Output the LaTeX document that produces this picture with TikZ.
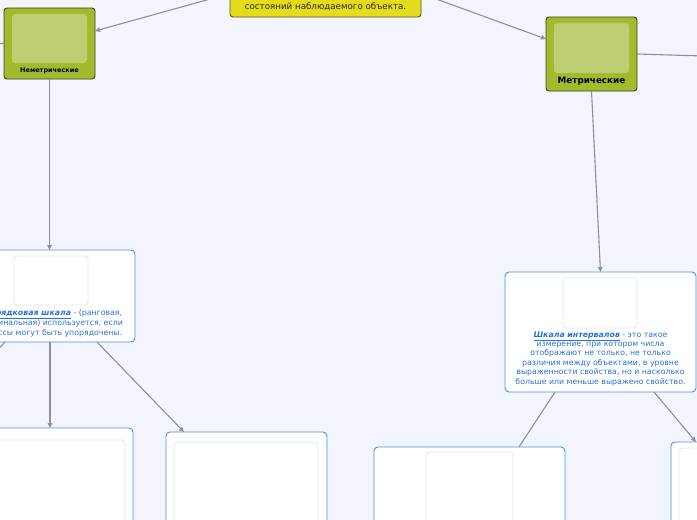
\documentclass[tikz,border=0pt]{standalone}
\usepackage{fontspec}
\setmainfont{DejaVu Sans}
\usetikzlibrary{arrows.meta,calc}
\definecolor{bg}{HTML}{F2F5FE}
\definecolor{gfill}{HTML}{A2BB2D}
\definecolor{ginner}{HTML}{BDCF72}
\definecolor{gdraw}{HTML}{3D4214}
\definecolor{yfill}{HTML}{E5DC1C}
\definecolor{ydraw}{HTML}{55522A}
\definecolor{ytext}{HTML}{2A2A1A}
\definecolor{bdraw}{HTML}{4A92E6}
\definecolor{btext}{HTML}{2B72CF}
\definecolor{conncol}{HTML}{8E8F98}
\definecolor{phdraw}{HTML}{E6E6E8}
\newcommand\mylink[1]{\underline{\textbf{\textit{#1}}}}
\begin{document}
\begin{tikzpicture}[x=1pt,y=-1pt,
 box/.style={rectangle, inner sep=0pt, outer sep=0pt},
 greenbox/.style={box, draw=gdraw, fill=gfill, rounded corners=3pt, line width=0.9pt},
 greeninner/.style={box, fill=ginner, rounded corners=3pt},
 yellowbox/.style={box, draw=ydraw, fill=yfill, rounded corners=3pt, line width=0.9pt},
 bluebox/.style={box, draw=bdraw, fill=white, rounded corners=4pt, line width=0.9pt},
 phbox/.style={box, draw=phdraw, fill=white, rounded corners=3pt, line width=0.8pt},
 bluetext/.style={text=btext, font=\fontsize{7.8}{9.4}\selectfont, align=center, inner sep=0pt},
 conn/.style={draw=conncol, line width=1.1pt},
 arr/.style={conn, -{Triangle[length=5pt,width=4.5pt]}},
]
\useasboundingbox (0,0) rectangle (697,520);
\clip (0,0) rectangle (697,520);
\fill[bg] (0,0) rectangle (697,520);

% boxes
\node[yellowbox, minimum width=191pt, minimum height=47pt] (yb) at (325.5,-6.5) {};
\node[font=\fontsize{8.7}{10}\selectfont, text=ytext, inner sep=0pt] (ytx) at (325.5,7) {состояний наблюдаемого объекта.};

\node[greenbox, minimum width=91pt, minimum height=71pt] (nm) at (49.5,43.5) {};
\node[greeninner, minimum width=75pt, minimum height=49pt] (nmi) at (49.5,38.5) {};
\node[font=\bfseries\fontsize{6.5}{7}\selectfont, inner sep=0pt] (nml) at (49.5,70.5) {Неметрические};

\node[greenbox, minimum width=91pt, minimum height=74pt] (mt) at (591.5,54) {};
\node[greeninner, minimum width=75pt, minimum height=50pt] (mti) at (591.5,48) {};
\node[font=\bfseries\fontsize{8.8}{9}\selectfont, inner sep=0pt] (mtl) at (591.5,81) {Метрические};

\node[bluebox, minimum width=168pt, minimum height=92pt] (pb) at (51,296) {};
\node[phbox, minimum width=74pt, minimum height=49pt] (pbi) at (51,280.5) {};
\node[bluetext] (pbt) at (53,323) {\mylink{Порядковая шкала} - (ранговая,\\ординальная) используется, если\\классы могут быть упорядочены.};

\node[bluebox, minimum width=191pt, minimum height=120pt] (ib) at (600.5,332) {};
\node[phbox, minimum width=74pt, minimum height=50pt] (ibi) at (600,303) {};
\node[bluetext] (ibt) at (600.5,358.5) {\mylink{Шкала интервалов} - это такое\\измерение, при котором числа\\отображают не только, не только\\различия между объектами, в уровне\\выраженности свойства, но и насколько\\больше или меньше выражено свойство.};

\node[bluebox, minimum width=166pt, minimum height=132pt] (lb) at (50,494) {};
\node[phbox, minimum width=150pt, minimum height=120pt] (lbi) at (50,500) {};

\node[bluebox, minimum width=161pt, minimum height=148pt] (mb) at (246.5,506) {};
\node[phbox, minimum width=144pt, minimum height=140pt] (mbi) at (246,512) {};

\node[bluebox, minimum width=191pt, minimum height=153pt] (bb) at (469.5,523.5) {};
\node[phbox, minimum width=87pt, minimum height=88pt] (bbi) at (469.5,496) {};

\node[bluebox, minimum width=189pt, minimum height=158pt] (rb) at (765.5,521) {};
\node[phbox, minimum width=173pt, minimum height=140pt] (rbi) at (765.5,518) {};

% free ends
\coordinate (mtr) at (720,56.5);
\coordinate (nml2) at (-30,44);
\coordinate (pbl) at (-40,390);

% connectors
\draw[arr] (yb.west) -- ([yshift=12.5pt]nm.east);
\draw[arr] (yb.east) -- ([yshift=15pt]mt.west);
\draw[conn] (mt.east) -- (mtr);
\draw[conn] (nm.west) -- (nml2);
\draw[arr] (nm.south) -- (pb.north -| nm.south);
\draw[arr] (mt.south) -- (ib.north);
\draw[arr] ([xshift=-46pt]pb.south) -- (pbl);
\draw[arr] ([xshift=-1pt]pb.south) -- (lb.north);
\draw[arr] ([xshift=46pt]pb.south) -- ([xshift=-62.5pt]mb.north);
\draw[conn] ([xshift=-45.5pt]ib.south) -- ([xshift=49.5pt]bb.north);
\draw[arr] ([xshift=53.5pt]ib.south) -- ([xshift=-69.5pt]rb.north);
\end{tikzpicture}
\end{document}
